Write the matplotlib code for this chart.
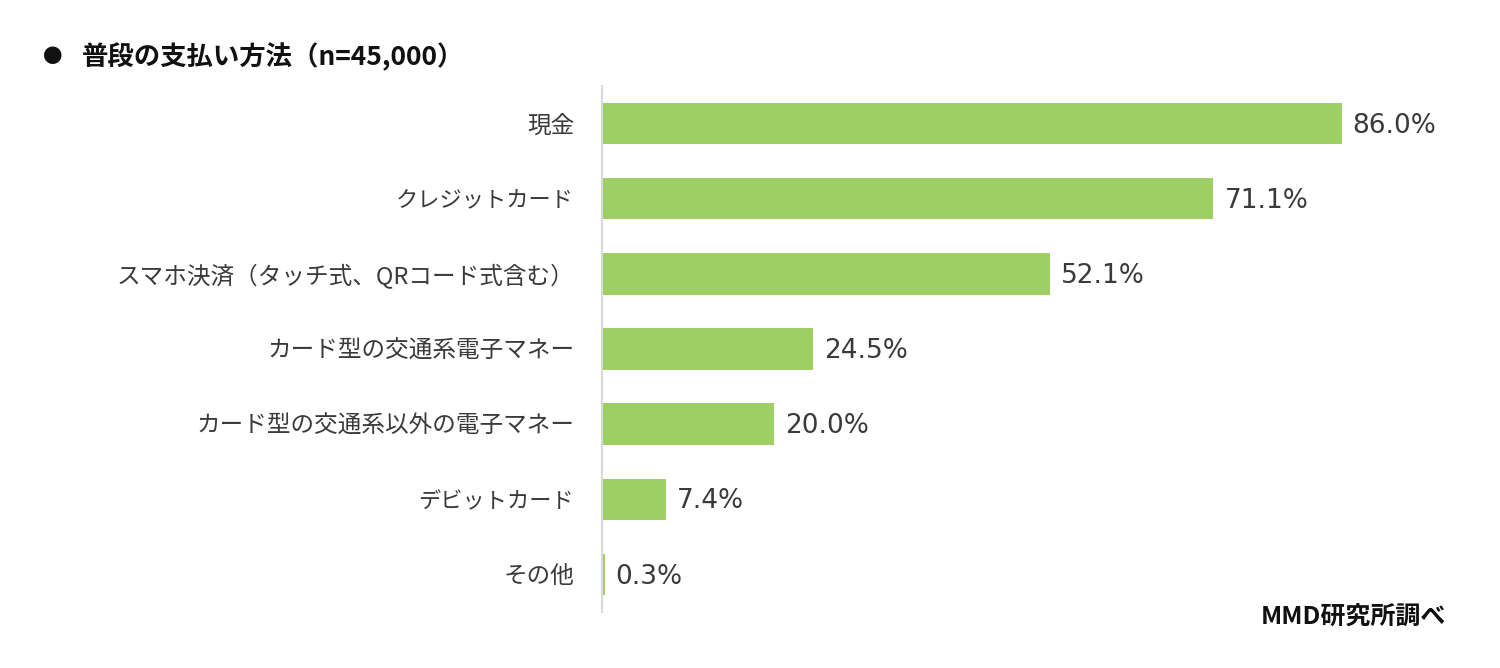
import matplotlib
matplotlib.use("Agg")
import matplotlib.pyplot as plt

plt.rcParams['font.family'] = ['Noto Sans CJK JP', 'DejaVu Sans']

categories = ["現金", "クレジットカード", "スマホ決済（タッチ式、QRコード式含む）",
              "カード型の交通系電子マネー", "カード型の交通系以外の電子マネー",
              "デビットカード", "その他"]
values = [86.0, 71.1, 52.1, 24.5, 20.0, 7.4, 0.3]
value_labels = ["86.0%", "71.1%", "52.1%", "24.5%", "20.0%", "7.4%", "0.3%"]
title = "普段の支払い方法（n=45,000）"
source = "MMD研究所調べ"

bar_color = "#9ECF65"
text_color = "#3a3a3a"

fig = plt.figure(figsize=(15, 6.68), dpi=100)
ax = fig.add_axes([602/1500, 1-612/668, 860/1500, 526/668])

ypos = list(range(len(categories)))
ax.barh(ypos, values, height=0.55, color=bar_color, zorder=2)
ax.set_xlim(0, 100)
ax.set_ylim(len(categories) - 0.5, -0.5)

for y, v, lab in zip(ypos, values, value_labels):
    ax.annotate(lab, (v, y), xytext=(8, -1.5), textcoords='offset points',
                va='center', ha='left', fontsize=19, color=text_color,
                family=['DejaVu Sans'])

ax.set_yticks(ypos)
ax.set_yticklabels(categories, color=text_color)
kana_only = set("クレジットカードデビッ")
for t, c in zip(ax.get_yticklabels(), categories):
    if all(ch in kana_only for ch in c):
        t.set_fontsize(16)
    else:
        t.set_fontsize(17)
ax.tick_params(axis='y', length=0, pad=20)
ax.set_xticks([])
for s in ['top', 'right', 'bottom']:
    ax.spines[s].set_visible(False)
ax.spines['left'].set_color('#d9d9d9')
ax.spines['left'].set_linewidth(1.5)

fig.text(43/1500, 1-57/668, "●", fontsize=14, color='#111111', va='center', ha='left')
fig.text(82/1500, 1-57/668, title, fontsize=19, fontweight='bold', color='#111111',
         va='center', ha='left')
fig.text(1446/1500, 1-617/668, source, fontsize=18, fontweight='bold', color='#111111',
         va='center', ha='right')

fig.savefig("out.png", dpi=100, facecolor='white')
